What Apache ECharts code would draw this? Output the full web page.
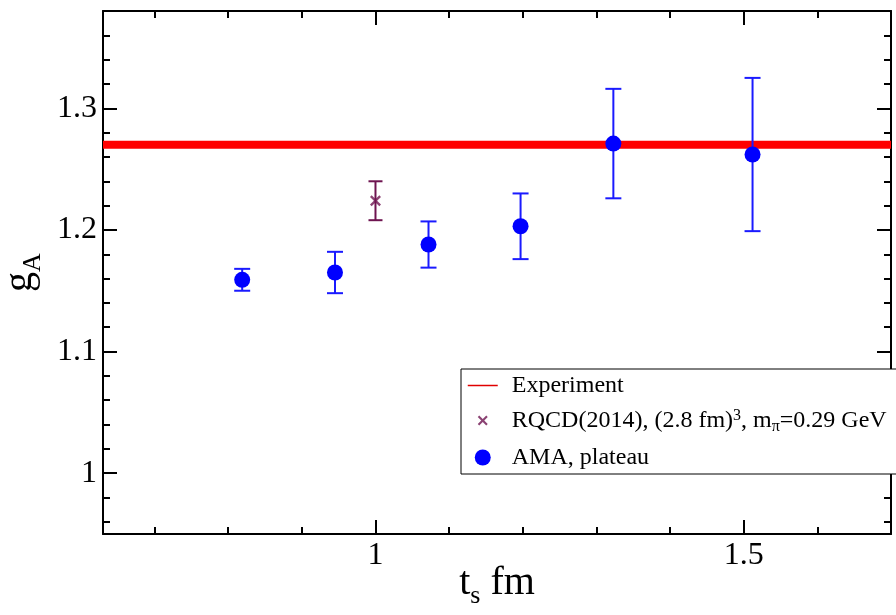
<!DOCTYPE html>
<html>
<head>
<meta charset="utf-8">
<script src="https://cdn.jsdelivr.net/npm/echarts@6/dist/echarts.min.js"></script>
<style>
html, body { margin: 0; padding: 0; background: #fff; }
#chart { width: 896px; height: 615px; }
</style>
</head>
<body>
<div id="chart"></div>
<script>
// data
var amaX = [0.819, 0.945, 1.072, 1.197, 1.323, 1.512];
var amaY = [1.159, 1.165, 1.188, 1.203, 1.271, 1.262];
var amaErr = [0.009, 0.017, 0.019, 0.027, 0.045, 0.063];
var rqcdX = [1.0];
var rqcdY = [1.224];
var rqcdErr = [0.016];
var expValue = 1.27;

var xMajorTicks = [1, 1.5];
var xMinorTicks = [0.7, 0.8, 0.9, 1.1, 1.2, 1.3, 1.4, 1.6];
var yMajorTicks = [1, 1.1, 1.2, 1.3];
var yMinorTicks = [0.96, 0.98, 1.02, 1.04, 1.06, 1.08, 1.12, 1.14, 1.16, 1.18,
                   1.22, 1.24, 1.26, 1.28, 1.32, 1.34, 1.36];

var names = ['Experiment', 'RQCD(2014), (2.8 fm)3, mπ=0.29 GeV', 'AMA, plateau'];

var FONT = 'Liberation Serif';
var xRange = [0.63, 1.7];
var yRange = [0.95, 1.38];

var crossPath = 'path://M0,1.5L1.5,0L5,3.5L8.5,0L10,1.5L6.5,5L10,8.5L8.5,10L5,6.5L1.5,10L0,8.5L3.5,5Z';
var crossLegend = 'path://M-3,-3h0.05v0.05h-0.05Z M13,13h-0.05v-0.05h0.05Z M0,1.5L1.5,0L5,3.5L8.5,0L10,1.5L6.5,5L10,8.5L8.5,10L5,6.5L1.5,10L0,8.5L3.5,5Z';

var chart = echarts.init(document.getElementById('chart'));

function errorBars(capHalf) {
  return function (params, api) {
    var x = api.value(0), y = api.value(1), e = api.value(2);
    var top = api.coord([x, y + e]);
    var bot = api.coord([x, y - e]);
    var style = { stroke: api.visual('color'), lineWidth: 2 };
    return {
      type: 'group',
      children: [
        { type: 'line', shape: { x1: top[0], y1: top[1], x2: bot[0], y2: bot[1] }, style: style },
        { type: 'line', shape: { x1: top[0] - capHalf, y1: top[1], x2: top[0] + capHalf, y2: top[1] }, style: style },
        { type: 'line', shape: { x1: bot[0] - capHalf, y1: bot[1], x2: bot[0] + capHalf, y2: bot[1] }, style: style }
      ]
    };
  };
}

function makeXAxis(pos, ticks, len, labels, withLine) {
  return {
    type: 'value', position: pos, min: xRange[0], max: xRange[1],
    axisLine: { show: withLine, onZero: false, lineStyle: { color: '#000', width: 2 } },
    axisTick: { show: true, inside: true, length: len, customValues: ticks, lineStyle: { color: '#000', width: 2 } },
    axisLabel: labels ? { customValues: ticks, color: '#000', fontFamily: FONT, fontSize: 32, margin: 6 } : { show: false },
    splitLine: { show: false }
  };
}

function makeYAxis(pos, ticks, len, labels, withLine) {
  return {
    type: 'value', position: pos, min: yRange[0], max: yRange[1],
    axisLine: { show: withLine, onZero: false, lineStyle: { color: '#000', width: 2 } },
    axisTick: { show: true, inside: true, length: len, customValues: ticks, lineStyle: { color: '#000', width: 2 } },
    axisLabel: labels ? { customValues: ticks, color: '#000', fontFamily: FONT, fontSize: 32, margin: 6 } : { show: false },
    splitLine: { show: false }
  };
}

var titleRich = {
  a: { fontFamily: FONT, fontSize: 40, color: '#000', lineHeight: 40, verticalAlign: 'top' },
  s: { fontFamily: FONT, fontSize: 26, color: '#000', lineHeight: 26, padding: [20, 0, 0, 0], verticalAlign: 'top' }
};

var xAxes = [
  makeXAxis('bottom', xMajorTicks, 14, true, true),
  makeXAxis('bottom', xMinorTicks, 7, false, false),
  makeXAxis('top', xMajorTicks, 14, false, true),
  makeXAxis('top', xMinorTicks, 7, false, false)
];
xAxes[0].name = '{a|t}{s|s}{a| fm}';
xAxes[0].nameLocation = 'middle';
xAxes[0].nameGap = 29;
xAxes[0].nameMoveOverlap = false;
xAxes[0].nameTextStyle = { rich: titleRich };

var yAxes = [
  makeYAxis('left', yMajorTicks, 14, true, true),
  makeYAxis('left', yMinorTicks, 7, false, false),
  makeYAxis('right', yMajorTicks, 14, false, true),
  makeYAxis('right', yMinorTicks, 7, false, false)
];
yAxes[0].name = '{a|g}{s|A}';
yAxes[0].nameLocation = 'middle';
yAxes[0].nameRotate = 90;
yAxes[0].nameGap = 60;
yAxes[0].nameTextStyle = { rich: titleRich };

var option = {
  backgroundColor: '#fff',
  animation: false,
  grid: { left: 103, right: 5, top: 11, bottom: 81, outerBoundsMode: 'none' },
  xAxis: xAxes,
  yAxis: yAxes,
  legend: {
    orient: 'vertical',
    left: 461,
    top: 369,
    padding: [4, 12, 4, 6],
    itemGap: 10,
    itemWidth: 30,
    itemHeight: 16,
    borderColor: '#000',
    borderWidth: 1,
    borderRadius: 0,
    backgroundColor: '#fff',
    formatter: function (name) {
      if (name === names[1]) return 'RQCD(2014), (2.8 fm){sup|3}, m{sub|π}=0.29 GeV';
      return name;
    },
    textStyle: {
      fontFamily: FONT, fontSize: 24, color: '#000', lineHeight: 25, padding: [0, 0, 0, 9],
      rich: {
        sup: { fontFamily: FONT, fontSize: 16, color: '#000', lineHeight: 25, verticalAlign: 'top' },
        sub: { fontFamily: FONT, fontSize: 16, color: '#000', lineHeight: 12, padding: [11, 0, 0, 0], verticalAlign: 'top' }
      }
    },
    data: [
      { name: names[0], lineStyle: { width: 1.5, color: '#e00000' }, itemStyle: { opacity: 0 } },
      { name: names[1], icon: crossLegend },
      { name: names[2], icon: 'circle' }
    ]
  },
  series: [
    {
      name: names[0], type: 'line', symbol: 'none', z: 1,
      lineStyle: { color: '#ff0000', width: 8 },
      itemStyle: { color: '#ff0000' },
      data: [[xRange[0], expValue], [xRange[1], expValue]]
    },
    {
      type: 'custom', z: 3,
      itemStyle: { color: '#6e1450' },
      renderItem: errorBars(7),
      encode: { x: 0, y: 1 },
      data: rqcdX.map(function (x, i) { return [x, rqcdY[i], rqcdErr[i]]; })
    },
    {
      name: names[1], type: 'scatter', z: 4,
      symbol: crossPath, symbolSize: 11,
      itemStyle: { color: '#6e1450' },
      data: rqcdX.map(function (x, i) { return [x, rqcdY[i]]; })
    },
    {
      type: 'custom', z: 3,
      itemStyle: { color: '#1a1aff' },
      renderItem: errorBars(8),
      encode: { x: 0, y: 1 },
      data: amaX.map(function (x, i) { return [x, amaY[i], amaErr[i]]; })
    },
    {
      name: names[2], type: 'scatter', z: 4,
      symbol: 'circle', symbolSize: 16,
      itemStyle: { color: '#0000ff', opacity: 1 },
      data: amaX.map(function (x, i) { return [x, amaY[i]]; })
    }
  ]
};

chart.setOption(option);
window.addEventListener('resize', function () { chart.resize(); });
</script>
</body>
</html>
